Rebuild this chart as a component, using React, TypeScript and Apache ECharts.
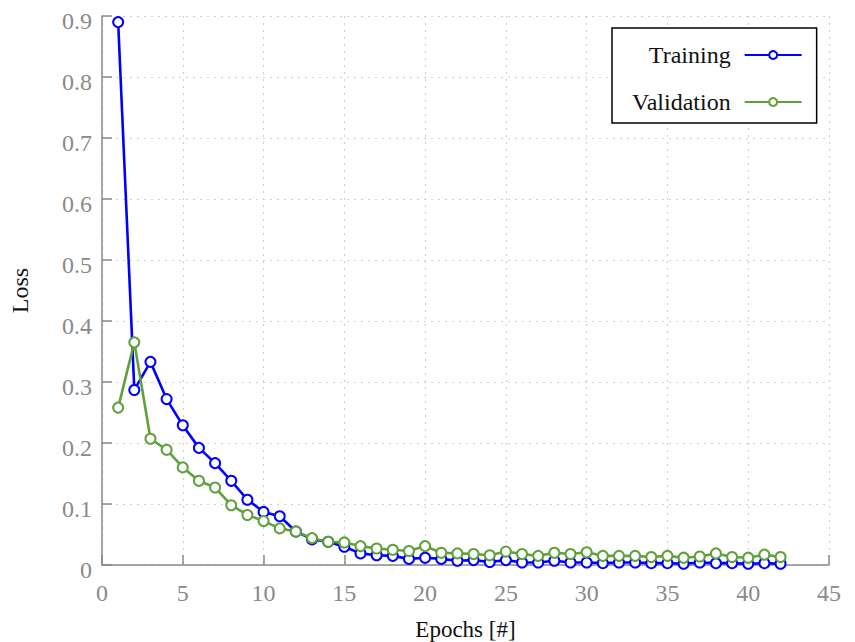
import React, { useEffect, useRef } from "react";
import * as echarts from "echarts";

const epochs = [1,2,3,4,5,6,7,8,9,10,11,12,13,14,15,16,17,18,19,20,21,22,23,24,25,26,27,28,29,30,31,32,33,34,35,36,37,38,39,40,41,42];
const training = [0.89,0.287,0.333,0.272,0.229,0.192,0.167,0.138,0.107,0.087,0.080,0.055,0.042,0.038,0.030,0.019,0.016,0.015,0.010,0.012,0.010,0.007,0.008,0.005,0.008,0.004,0.004,0.007,0.004,0.004,0.003,0.004,0.004,0.003,0.003,0.002,0.004,0.003,0.003,0.002,0.003,0.002];
const validation = [0.258,0.365,0.207,0.189,0.160,0.138,0.127,0.098,0.082,0.072,0.060,0.055,0.044,0.038,0.037,0.031,0.027,0.025,0.023,0.031,0.020,0.019,0.018,0.016,0.022,0.018,0.015,0.020,0.018,0.021,0.015,0.015,0.015,0.013,0.015,0.012,0.014,0.019,0.013,0.012,0.017,0.013];

const FONT = "'Liberation Serif', 'Times New Roman', serif";
const BLUE = "#0000ff";
const GREEN = "#5fa13a";

export default function App() {
  const ref = useRef<HTMLDivElement>(null);
  useEffect(() => {
    if (!ref.current) return;
    const chart = echarts.init(ref.current, undefined, { renderer: "svg" });
    const mk = (name: string, vals: number[], color: string) => ({
      name,
      type: "line",
      data: epochs.map((e, i) => [e, vals[i]]),
      symbol: "emptyCircle",
      symbolSize: 10,
      lineStyle: { color, width: 2.6 },
      itemStyle: { color, borderColor: color, borderWidth: 2.2 },
      emphasis: { disabled: true },
    });
    chart.setOption({
      animation: false,
      backgroundColor: "#fff",
      textStyle: { fontFamily: FONT },
      grid: { left: 102, right: 26, top: 16, bottom: 77, containLabel: false, outerBoundsMode: "none" },
      legend: {
        orient: "vertical",
        left: 612,
        top: 28,
        align: "right",
        itemWidth: 57,
        itemHeight: 10,
        itemGap: 23,
        padding: [15, 14, 9, 20],
        backgroundColor: "#fff",
        borderColor: "#000",
        borderWidth: 1.5,
        selectedMode: false,
        textStyle: { fontFamily: FONT, fontSize: 24, color: "#111", width: 102, align: "right", padding: [0, 9, 0, 0] },
        data: ["Training", "Validation"],
      },
      xAxis: {
        type: "value",
        min: 0,
        max: 45,
        interval: 5,
        name: "Epochs [#]",
        nameLocation: "middle",
        nameGap: 52,
        nameTextStyle: { fontFamily: FONT, fontSize: 23, color: "#111", lineHeight: 24 },
        axisLine: { show: true, lineStyle: { color: "#8a8a8a", width: 1.5 } },
        axisTick: { show: true, inside: true, length: 10, lineStyle: { color: "#8a8a8a", width: 1.5 } },
        axisLabel: { fontFamily: FONT, fontSize: 24, color: "#8a8a8a", margin: 16 },
        splitLine: { show: true, lineStyle: { color: "#cfcfcf", type: [2, 5], width: 1.2 } },
      },
      yAxis: {
        type: "value",
        min: 0,
        max: 0.9,
        interval: 0.1,
        name: "Loss",
        nameLocation: "middle",
        nameGap: 70,
        nameTextStyle: { fontFamily: FONT, fontSize: 24, color: "#111" },
        axisLine: { show: true, lineStyle: { color: "#8a8a8a", width: 1.5 } },
        axisTick: { show: true, inside: true, length: 10, lineStyle: { color: "#8a8a8a", width: 1.5 } },
        axisLabel: { fontFamily: FONT, fontSize: 24, color: "#8a8a8a", margin: 10, verticalAlign: "top", lineHeight: 10 },
        splitLine: { show: true, lineStyle: { color: "#cfcfcf", type: [2, 5], width: 1.2 } },
      },
      series: [mk("Training", training, BLUE), mk("Validation", validation, GREEN)],
    });
    return () => chart.dispose();
  }, []);
  return <div ref={ref} style={{ width: 855, height: 642, position: "absolute", left: 0, top: 0 }} />;
}
